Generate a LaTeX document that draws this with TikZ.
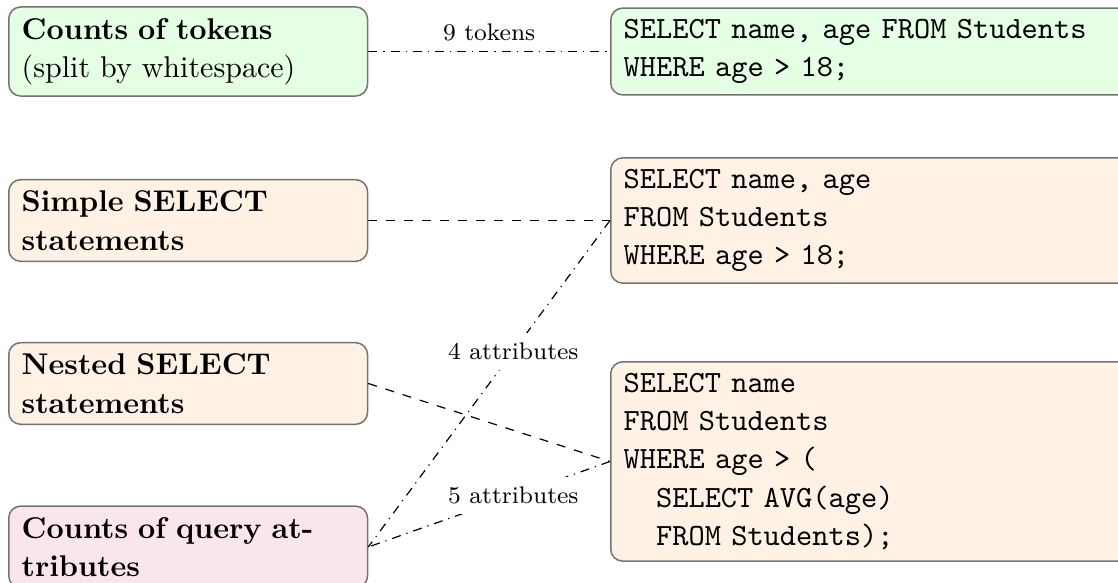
\documentclass[tikz,border=0pt]{standalone}
\begin{document}
\begin{tikzpicture}[x=0.33333pt,y=-0.33333pt]
\tikzset{
  box/.style={draw=black!55, rounded corners=4pt, line width=0.5pt, anchor=west,
    align=left, inner xsep=4.3pt, inner ysep=3.7pt},
  lbox/.style={box, text width=111pt, font=\fontsize{10}{12.8}\selectfont},
  codebox/.style={box, text width=190pt, font=\fontsize{10.3}{12.8}\selectfont\ttfamily},
  greenfill/.style={fill=green!10},
  orangefill/.style={fill=orange!10},
  pinkfill/.style={fill=purple!10},
  lbl/.style={font=\footnotesize},
  conn/.style={line width=0.4pt, black}
}
\useasboundingbox (0,0) rectangle (1118,583);

\node[lbox, greenfill] (tok) at (8,51.5) {\textbf{Counts of tokens}\\(split by whitespace)};
\node[codebox, greenfill] (tokq) at (610,51.5) {SELECT name, age FROM Students\\WHERE age > 18;};

\node[lbox, orangefill] (simple) at (8,220.5) {\textbf{Simple SELECT}\\\textbf{statements}};
\node[codebox, orangefill] (simpleq) at (610,220.5) {SELECT name, age\\FROM Students\\WHERE age > 18;};

\node[lbox, orangefill] (nested) at (8,383.5) {\textbf{Nested SELECT}\\\textbf{statements}};
\node[codebox, orangefill] (nestedq) at (610,461.5) {SELECT name\\FROM Students\\WHERE age > (\\\phantom{xx}SELECT AVG(age)\\\phantom{xx}FROM Students);};

\node[lbox, pinkfill] (attr) at (8,547) {\textbf{Counts of query at-}\\\textbf{tributes}};

\draw[conn, dashdotted] (tok.east) -- node[lbl, above]{9 tokens} (tokq.west);
\draw[conn, dashed] (simple.east) -- (simpleq.west);
\draw[conn, dashed] (nested.east) -- (nestedq.west);
\draw[conn, dashdotted] (simpleq.west) -- node[lbl, pos=0.4, fill=white]{4 attributes} (attr.east);
\draw[conn, dashdotted] (nestedq.west) -- node[lbl, pos=0.4, fill=white]{5 attributes} (attr.east);
\end{tikzpicture}
\end{document}
